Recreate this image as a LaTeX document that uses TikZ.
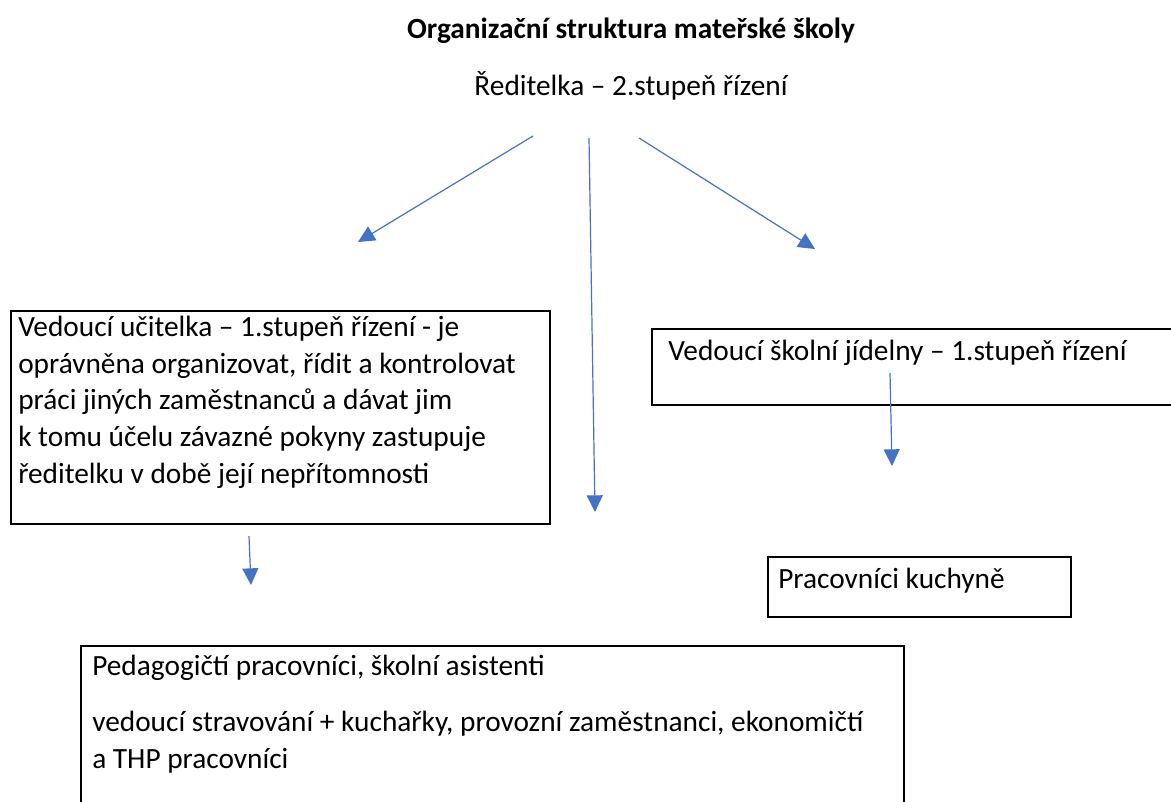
\documentclass[tikz,border=0pt]{standalone}
\usepackage{fontspec}
\setmainfont{Carlito}
\usetikzlibrary{arrows.meta}
\definecolor{arrowblue}{HTML}{4472C4}
\tikzset{
  txt/.style={anchor=base west, inner sep=0pt, align=left, font=\fontsize{22}{27.4}\selectfont},
  box/.style={draw, line width=1.3pt, anchor=north west, inner sep=0pt},
  arr/.style={arrowblue, line width=0.9pt, -{Triangle[length=12.5pt, width=12pt]}}
}
\begin{document}
\begin{tikzpicture}[x=0.75pt, y=-0.75pt]
        \useasboundingbox (0,0) rectangle (1171,801);
        \clip (0,0) rectangle (1171,801);

        % Heading
        \node[txt, anchor=base, font=\fontsize{22}{27.4}\selectfont\bfseries] (title) at (631,38) {Organizační struktura mateřské školy};
        \node[txt, anchor=base] (red) at (631,95) {Ředitelka – 2.stupeň řízení};

        % Boxes
        \node[box, minimum width=404.25pt, minimum height=159.75pt] (vubox) at (10,310) {};
        \node[box, minimum width=396.75pt, minimum height=57pt] (vsjbox) at (651,328) {};
        \node[box, minimum width=227.25pt, minimum height=45pt] (pkbox) at (767,556) {};
        \node[box, minimum width=617.25pt, minimum height=131.25pt] (pedbox) at (80,645) {};

        % Box texts (base = last line)
        \node[txt] (vu) at (18,483) {Vedoucí učitelka – 1.stupeň řízení - je\\
          oprávněna organizovat, řídit a kontrolovat\\
          práci jiných zaměstnanců a dávat jim\\
          k tomu účelu závazné pokyny zastupuje\\
          ředitelku v době její nepřítomnosti};
        \node[txt] (vsj) at (668,360) {Vedoucí školní jídelny – 1.stupeň řízení};
        \node[txt] (pk) at (778,588) {Pracovníci kuchyně};
        \node[txt] (ped) at (92,768) {Pedagogičtí pracovníci, školní asistenti\\[14.6pt]
          vedoucí stravování + kuchařky, provozní zaměstnanci, ekonomičtí\\
          a THP pracovníci};

        % Arrow ends
        \coordinate (d1) at (533,136);
        \coordinate (e1) at (358,242);
        \coordinate (d2) at (589,138);
        \coordinate (e2) at (595,512);
        \coordinate (d3) at (639,138);
        \coordinate (e3) at (815,249);
        \coordinate (d4) at (890,373);
        \coordinate (e4) at (892,466);
        \coordinate (d5) at (249,536);
        \coordinate (e5) at (251,585);

        % Arrows
        \draw[arr] (d1) -- (e1);
        \draw[arr] (d2) -- (e2);
        \draw[arr] (d3) -- (e3);
        \draw[arr] (d4) -- (e4);
        \draw[arr] (d5) -- (e5);
    \end{tikzpicture}
\end{document}
